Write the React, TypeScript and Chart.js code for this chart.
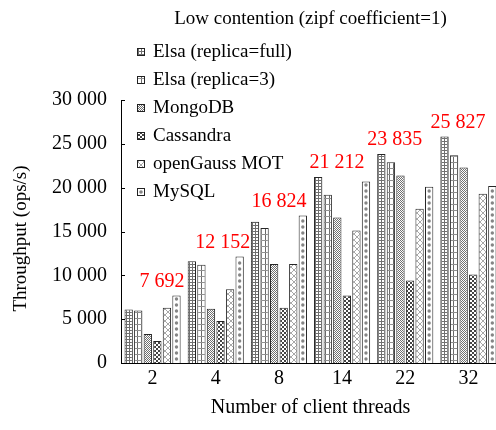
import React, { useEffect, useRef } from "react";
import { Chart, registerables } from "chart.js";

Chart.register(...registerables);

const categories = ["2", "4", "8", "14", "22", "32"];
const seriesNames = [
  "Elsa (replica=full)",
  "Elsa (replica=3)",
  "MongoDB",
  "Cassandra",
  "openGauss MOT",
  "MySQL",
];
const elsaFull = [6100, 11600, 16100, 21212, 23835, 25827];
const elsaReplica3 = [6000, 11200, 15400, 19200, 22900, 23700];
const mongoDB = [3300, 6200, 11300, 16600, 21400, 22300];
const cassandra = [2500, 4800, 6300, 7700, 9400, 10100];
const openGaussMOT = [6300, 8400, 11300, 15100, 17600, 19300];
const mySQL = [7692, 12152, 16824, 20700, 20100, 20200];
const peakValues = [7692, 12152, 16824, 21212, 23835, 25827];
const yTickStep = 5000;
const yMax = 30000;

const SERIF = "'Liberation Serif', 'Times New Roman', Times, serif";

function fmt(v: number): string {
  return String(v).replace(/\B(?=(\d{3})+(?!\d))/g, " ");
}

function makePattern(
  w: number,
  h: number,
  draw: (ctx: CanvasRenderingContext2D) => void
): CanvasPattern | string {
  const c = document.createElement("canvas");
  c.width = w;
  c.height = h;
  const ctx = c.getContext("2d");
  if (!ctx) return "#fff";
  ctx.fillStyle = "#fff";
  ctx.fillRect(0, 0, w, h);
  draw(ctx);
  return ctx.createPattern(c, "repeat") || "#fff";
}

function buildPatterns() {
  const fineGrid = makePattern(3, 3, (ctx) => {
    ctx.fillStyle = "#707070";
    ctx.fillRect(0, 0, 1, 3);
    ctx.fillRect(0, 0, 3, 1);
  });
  const coarseGrid = makePattern(4, 6, (ctx) => {
    ctx.fillStyle = "#6a6a6a";
    ctx.fillRect(1, 0, 1, 6);
    ctx.fillStyle = "#909090";
    ctx.fillRect(0, 0, 4, 1);
  });
  const fineChecker = makePattern(2, 2, (ctx) => {
    ctx.fillStyle = "#707070";
    ctx.fillRect(0, 0, 1, 1);
    ctx.fillRect(1, 1, 1, 1);
  });
  const bigChecker = makePattern(4, 4, (ctx) => {
    ctx.fillStyle = "#444";
    ctx.fillRect(0, 0, 2, 2);
    ctx.fillRect(2, 2, 2, 2);
  });
  const crossHatch = makePattern(6, 6, (ctx) => {
    ctx.strokeStyle = "#a8a8a8";
    ctx.lineWidth = 1;
    ctx.beginPath();
    ctx.moveTo(0, 0);
    ctx.lineTo(6, 6);
    ctx.moveTo(6, 0);
    ctx.lineTo(0, 6);
    ctx.stroke();
  });
  const dots = makePattern(4, 6, (ctx) => {
    ctx.fillStyle = "#8a8a8a";
    ctx.beginPath();
    ctx.arc(2, 3, 1.6, 0, Math.PI * 2);
    ctx.fill();
  });
  return [fineGrid, coarseGrid, fineChecker, bigChecker, crossHatch, dots];
}

export default function App() {
  const canvasRef = useRef<HTMLCanvasElement | null>(null);

  useEffect(() => {
    const canvas = canvasRef.current;
    if (!canvas) return;
    const patterns = buildPatterns();
    const seriesData = [elsaFull, elsaReplica3, mongoDB, cassandra, openGaussMOT, mySQL];
    const labelShift = [9.5, 7, 0, -5, -10.5, -10.5];
    const dotSeries = 5;

    const overlay = {
      id: "overlay",
      afterDatasetDraw(chart: any, args: any) {
        if (args.index !== dotSeries) return;
        const { ctx } = chart;
        const meta = chart.getDatasetMeta(dotSeries);
        ctx.save();
        ctx.fillStyle = "#858585";
        for (const el of meta.data) {
          const p = el.getProps(["x", "y", "base", "width"], true);
          for (let cy = p.base - 4; cy > p.y + 3; cy -= 6) {
            ctx.beginPath();
            ctx.arc(p.x, cy, 1.7, 0, Math.PI * 2);
            ctx.fill();
          }
        }
        ctx.restore();
      },
      afterDraw(chart: any) {
        const { ctx, chartArea, scales } = chart;
        const x = scales.x;
        const y = scales.y;
        ctx.save();
        ctx.strokeStyle = "#000";
        ctx.lineWidth = 1;
        for (let v = 0; v <= yMax; v += yTickStep) {
          const py = Math.round(y.getPixelForValue(v)) + 0.5;
          ctx.beginPath();
          ctx.moveTo(chartArea.left, py);
          ctx.lineTo(chartArea.left + 4, py);
          ctx.stroke();
        }
        ctx.fillStyle = "#000";
        ctx.font = `19px ${SERIF}`;
        ctx.textAlign = "center";
        ctx.textBaseline = "middle";
        ctx.fillText(
          "Low contention (zipf coefficient=1)",
          (chartArea.left + chartArea.right) / 2,
          chartArea.top - 81
        );
        ctx.save();
        ctx.translate(21, (chartArea.top + chartArea.bottom) / 2 + 7);
        ctx.rotate(-Math.PI / 2);
        ctx.font = `19px ${SERIF}`;
        ctx.fillText("Throughput (ops/s)", 0, 0);
        ctx.restore();
        ctx.font = `19px ${SERIF}`;
        ctx.textAlign = "left";
        for (let i = 0; i < seriesNames.length; i++) {
          const cy = chartArea.top - 48 + i * 28;
          const bx = chartArea.left + 16;
          ctx.fillStyle = (i === dotSeries ? "#fff" : patterns[i]) as any;
          ctx.fillRect(bx, cy - 4, 8, 8);
          if (i === dotSeries) {
            ctx.fillStyle = "#858585";
            ctx.beginPath();
            ctx.arc(bx + 4, cy, 1.8, 0, Math.PI * 2);
            ctx.fill();
          }
          ctx.strokeStyle = "#222";
          ctx.lineWidth = 1;
          ctx.strokeRect(bx + 0.5, cy - 3.5, 7, 7);
          ctx.fillStyle = "#000";
          ctx.fillText(seriesNames[i], bx + 16, cy);
        }
        ctx.font = `20px ${SERIF}`;
        ctx.textAlign = "center";
        ctx.fillStyle = "#ff0000";
        for (let i = 0; i < peakValues.length; i++) {
          const px = x.getPixelForValue(i) + labelShift[i];
          const py = y.getPixelForValue(peakValues[i]) - 14;
          ctx.fillText(fmt(peakValues[i]), px, py);
        }
        ctx.restore();
      },
    };

    const chart = new Chart(canvas, {
      type: "bar",
      data: {
        labels: categories,
        datasets: seriesData.map((d, i) => ({
          label: seriesNames[i],
          data: d,
          backgroundColor: (i === dotSeries ? "#fff" : patterns[i]) as any,
          borderColor: "#262626",
          borderWidth: 1,
          categoryPercentage: 0.908,
          barPercentage: 0.87,
        })),
      },
      options: {
        responsive: false,
        animation: false,
        layout: { padding: { top: 100, right: 2, left: 0, bottom: 0 } },
        plugins: {
          legend: { display: false },
          title: { display: false },
          tooltip: { enabled: false },
        },
        scales: {
          x: {
            grid: { display: false, drawTicks: false },
            border: { display: true, color: "#000", width: 1 },
            ticks: { color: "#000", font: { family: SERIF, size: 20 }, padding: 4 },
            title: {
              display: true,
              text: "Number of client threads",
              color: "#000",
              font: { family: SERIF, size: 20 },
              padding: { top: 0, bottom: 10 },
            },
            afterFit: (s: any) => {
              s.height = 67;
            },
          },
          y: {
            min: 0,
            max: yMax,
            grid: { display: false, drawTicks: false },
            border: { display: true, color: "#000", width: 1 },
            ticks: {
              stepSize: yTickStep,
              color: "#000",
              font: { family: SERIF, size: 20 },
              padding: 14,
              callback: (v: any) => fmt(Number(v)),
            },
            afterFit: (s: any) => {
              s.width = 121;
            },
          },
        },
      },
      plugins: [overlay],
    });
    return () => chart.destroy();
  }, []);

  return (
    <div
      style={{
        position: "fixed",
        left: 0,
        top: 0,
        width: 496,
        height: 430,
        overflow: "hidden",
        background: "#fff",
      }}
    >
      <canvas ref={canvasRef} width={502} height={430} style={{ display: "block" }} />
    </div>
  );
}
